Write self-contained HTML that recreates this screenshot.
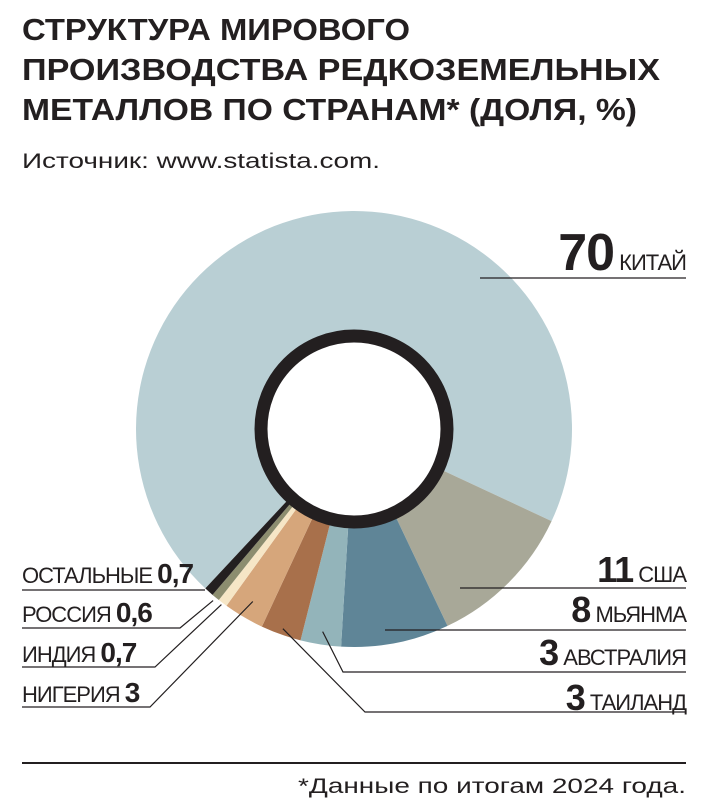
<!DOCTYPE html>
<html><head><meta charset="utf-8"><style>
html,body{margin:0;padding:0;background:#fff;}
svg{display:block;}
text{font-family:"Liberation Sans",sans-serif;fill:#231f20;}
</style></head><body>
<svg id="chart" width="716" height="809" viewBox="0 0 716 809">
<g font-weight="bold" font-size="31">
<text x="22" y="40" textLength="388" lengthAdjust="spacingAndGlyphs">СТРУКТУРА МИРОВОГО</text>
<text x="22" y="80" textLength="638" lengthAdjust="spacingAndGlyphs">ПРОИЗВОДСТВА РЕДКОЗЕМЕЛЬНЫХ</text>
<text x="22" y="120" textLength="615" lengthAdjust="spacingAndGlyphs">МЕТАЛЛОВ ПО СТРАНАМ* (ДОЛЯ, %)</text>
</g>
<text x="22" y="168" font-size="21" textLength="358" lengthAdjust="spacingAndGlyphs">Источник: www.statista.com.</text>
<g id="pie"></g>
<g>
<circle cx="354" cy="429" r="93" fill="#fff" stroke="#231f20" stroke-width="13"/>
</g>
<g id="labels" stroke="#231f20" stroke-width="1.2" fill="none"></g>
<line x1="22" y1="763" x2="686" y2="763" stroke="#231f20" stroke-width="2"/>
<text x="686" y="793" font-size="21" text-anchor="end" textLength="388" lengthAdjust="spacingAndGlyphs">*Данные по итогам 2024 года.</text>
</svg>
<script>
const categories=["КИТАЙ","США","МЬЯНМА","АВСТРАЛИЯ","ТАИЛАНД","НИГЕРИЯ","ИНДИЯ","РОССИЯ","ОСТАЛЬНЫЕ"];
const values=[70,11,8,3,3,3,0.7,0.6,0.7];
const valueLabels=["70","11","8","3","3","3","0,7","0,6","0,7"];
const colors=["#b9cfd4","#a8a898","#5f8597","#93b4ba","#a8704b","#d6a67b","#f6e6c6","#8c8d6f","#231f20"];
const NS="http://www.w3.org/2000/svg";
const cx=354,cy=429,R=218,start=223;
const total=values.reduce((a,b)=>a+b,0);
function pt(a,r){const t=a*Math.PI/180;return [cx+r*Math.sin(t),cy-r*Math.cos(t)];}
const pie=document.getElementById('pie');
let a=start;const mids=[];
values.forEach((v,i)=>{
 const sweep=v/total*360;const a2=a+sweep;
 const p1=pt(a,R),p2=pt(a2,R);
 const p=document.createElementNS(NS,'path');
 p.setAttribute('d',`M${cx},${cy}L${p1[0]},${p1[1]}A${R},${R} 0 ${sweep>180?1:0} 1 ${p2[0]},${p2[1]}Z`);
 p.setAttribute('fill',colors[i]);
 
 
 pie.appendChild(p);mids.push(a+sweep/2);a=a2;
});
const lg=document.getElementById('labels');
// [side, baseline y, underline y, endpoint radius (0 = horizontal only), elbow x]
const layout=[["r",270,278,0,480],["r",582,588,0,460],["r",622,630,0,385],["r",665,672,205,343],["r",710,712,212,365],
["l",702,707,200,150],["l",662,667,220,155],["l",622,628,222,180],["l",583,590,0,205]];
const svg=document.getElementById('chart');
layout.forEach((L,i)=>{
 const [side,by,uy,rr,ex]=L;
 const pl=document.createElementNS(NS,'polyline');
 const x0=side==="r"?686:22;
 let pts=`${x0},${uy} ${ex},${uy}`;
 if(rr>0){const e=pt(mids[i],rr);pts+=` ${e[0]},${e[1]}`;}
 pl.setAttribute('points',pts);
 
 
 lg.appendChild(pl);
 const t=document.createElementNS(NS,'text');
 
 
 t.setAttribute('y',by);
 const big=i===0?52:(side==="r"?36:28);
 const n=document.createElementNS(NS,'tspan');n.setAttribute('font-weight','bold');n.setAttribute('font-size',big);n.textContent=valueLabels[i];
 const c=document.createElementNS(NS,'tspan');c.setAttribute('font-size',22);
 if(side==="r"){t.setAttribute('x',686);t.setAttribute('text-anchor','end');
  c.textContent=" "+categories[i];t.appendChild(n);t.appendChild(c);}
 else{t.setAttribute('x',22);c.textContent=categories[i]+" ";t.appendChild(c);t.appendChild(n);}
 t.style.letterSpacing="-1px";
 svg.appendChild(t);
});
</script>
</body></html>
